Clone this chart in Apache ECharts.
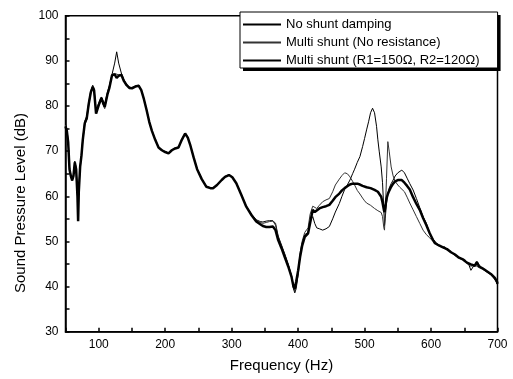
<!DOCTYPE html>
<html>
<head>
<meta charset="utf-8">
<script src="https://cdn.jsdelivr.net/npm/echarts@6/dist/echarts.min.js"></script>
<style>
  html, body { margin: 0; padding: 0; background: #fff; }
  #chart { width: 513px; height: 379px; }
</style>
</head>
<body>
<div id="chart"></div>
<script>
// frequency grid (Hz), shared by the three curves
var freqLow = [50, 52, 54, 56, 58, 60, 62, 64, 66, 68, 69, 70, 72, 74, 76, 79, 82, 85, 88, 91, 93, 96, 100, 104, 107, 109, 113, 116, 120];
var freqMid = [124, 127, 130, 134, 138, 142, 146, 150, 155, 160, 164, 168, 172, 176, 180, 185, 190, 195, 200, 205, 210, 215, 220, 225, 230, 234, 238, 243, 248, 255, 262, 268, 272, 278, 285, 290, 296, 301, 307, 314, 322, 330, 337, 343, 347, 352, 357, 362];
var freqHigh = [366, 370, 375, 380, 385, 390, 393, 395, 397, 400, 403, 406, 410, 415, 418, 422, 425, 428, 432, 437, 442, 447, 452, 456, 462, 466, 470, 474, 478, 482, 485, 489, 493, 497, 500, 503, 506, 509, 512, 515, 518, 520, 522, 525, 527, 529, 530, 531, 533, 535, 537, 540, 543, 546, 550, 553, 556, 560, 564, 568, 573, 578, 583, 588, 593, 598];
var freqTail = [603, 606, 609, 612, 615, 618, 621, 624, 627, 630, 633, 636, 639, 642, 645, 648, 651, 654, 657, 660, 663, 666, 669, 672, 675, 678, 681, 684, 687, 690, 693, 696, 699, 700];

// No shunt damping (dB)
var noShunt = [].concat(
    [76, 74.8, 72.5, 66.5, 64.8, 63.7, 64.8, 67.8, 66.4, 60.5, 55, 61.5, 66.8, 69.3, 72.8, 76.6, 77.8, 80.8, 83.3, 84.6, 83.8, 79, 80.7, 82, 81, 80.4, 83, 84.5, 87],
    [89.5, 92, 89.5, 87.3, 85.8, 84.8, 84.2, 84.1, 84.4, 84.6, 83.6, 81.6, 79.2, 76.6, 74.6, 72.6, 70.9, 70.3, 69.9, 69.6, 70.3, 70.7, 70.9, 72.6, 74, 73.1, 71.3, 68.6, 66.1, 63.9, 62.2, 61.9, 61.9, 62.6, 63.7, 64.4, 64.8, 64.3, 63, 60.6, 57.8, 56, 54.8, 54.4, 54.3, 54.5, 54.6, 54.6],
    [54, 51.2, 49.2, 47.2, 45, 42.4, 39.5, 38.6, 39.5, 42.5, 47, 49.5, 51.5, 52, 54.5, 55.5, 54, 53, 52.8, 52.5, 52.8, 53.3, 55, 56.5, 58.4, 60, 61.5, 62.5, 63.6, 65, 66, 67.5, 68.8, 71, 72.8, 74.7, 76.5, 78.5, 79.5, 78.5, 75.5, 72.5, 70, 66.5, 63, 57, 53.5, 55, 58.5, 60.5, 61.8, 62.8, 63.6, 64.5, 65.2, 65.6, 65.8, 65.2, 64, 62.8, 61.4, 59.5, 57.5, 55.5, 54, 51.8],
    [50.5, 50.0, 49.5, 49.6, 48.9, 49.2, 48.4, 48.8, 48.0, 48.2, 47.3, 47.6, 46.8, 46.9, 46.2, 46.5, 45.7, 45.9, 44.8, 43.6, 43.3, 45.0, 45.6, 44.9, 44.3, 44.6, 43.7, 43.9, 43.1, 43.3, 42.3, 42.0, 40.8, 41.3]
);

// Multi shunt, no resistance (dB)
var multiNoRes = [].concat(
    [75.8, 74.2, 71.8, 66.2, 64.3, 63.4, 64.6, 67.3, 65.8, 59.8, 54.8, 60.8, 66.2, 68.8, 72.3, 75.8, 77, 80.2, 82.8, 84, 83.2, 78.6, 80, 81.5, 80.2, 79.4, 82.4, 84.2, 87],
    [87.2, 86.8, 86.9, 87, 85.6, 84.7, 84.1, 84, 84.3, 84.5, 83.5, 81.5, 79.1, 76.5, 74.5, 72.5, 70.8, 70.2, 69.8, 69.5, 70.2, 70.6, 70.8, 72.5, 73.9, 73, 71.2, 68.5, 66, 63.8, 62.1, 61.8, 61.8, 62.5, 63.6, 64.3, 64.7, 64.2, 62.9, 60.5, 57.7, 55.9, 54.6, 54.2, 54, 54.2, 54.4, 54.5],
    [53.6, 51, 49, 47, 44.8, 42.5, 40.2, 39, 40.4, 43, 47.5, 50, 52, 53, 56, 57.8, 57.5, 57.3, 58, 58.8, 59.2, 59.5, 61, 62.5, 63.8, 64.6, 65.2, 65, 64.3, 63.3, 62.5, 61.3, 60.5, 59.6, 59, 58.5, 58.2, 58, 57.6, 57.3, 57, 56.8, 56.6, 56.4, 55.5, 53, 52.5, 56, 64, 72.1, 70, 66.5, 64.5, 63.3, 62.5, 62, 61.7, 61, 59.8, 58.5, 57, 55.5, 54, 52.5, 51.5, 50.8],
    [50.0, 49.8, 49.2, 49.5, 48.8, 48.5, 48.8, 48.0, 48.3, 47.8, 47.2, 47.5, 46.6, 46.8, 46.1, 45.7, 46.0, 45.1, 45.4, 44.5, 44.1, 44.8, 44.9, 44.2, 44.6, 43.8, 44.0, 43.2, 43.5, 42.6, 42.7, 41.6, 40.9, 41.0]
);

// Multi shunt, R1=150 ohm, R2=120 ohm (dB)
var multiRes = [].concat(
    [75.5, 74.5, 72, 66, 64.5, 63.5, 64.5, 67.5, 66, 60, 54.5, 61, 66.5, 69, 72.5, 76.2, 77.3, 80.5, 83, 84.2, 83.5, 78.3, 80.2, 81.8, 80.5, 79.8, 82.5, 84, 86.8],
    [87, 86.2, 86.7, 86.9, 85.5, 84.6, 84, 83.9, 84.3, 84.5, 83.5, 81.5, 79.1, 76.5, 74.5, 72.5, 70.8, 70.2, 69.8, 69.5, 70.2, 70.6, 70.8, 72.5, 73.9, 73, 71.2, 68.5, 66, 63.8, 62.1, 61.8, 61.8, 62.5, 63.6, 64.3, 64.7, 64.2, 62.9, 60.5, 57.7, 55.8, 54.4, 53.8, 53.4, 53.2, 53.2, 53.3],
    [52.5, 50.3, 48.5, 46.5, 44.5, 42.2, 40, 39.5, 41, 43.5, 46.6, 49, 51, 51.8, 54, 57, 56.5, 56.2, 57.3, 57.6, 57.8, 58.1, 59, 59.8, 60.6, 61.3, 61.8, 62.2, 62.6, 62.8, 62.9, 62.8, 62.6, 62.3, 62.1, 62, 61.9, 61.8, 61.6, 61.4, 61.1, 61, 60.6, 59.9, 58.6, 57, 56.5, 57.5, 59.5, 60.5, 61.2, 62.1, 62.8, 63.3, 63.6, 63.7, 63.6, 63, 62.3, 61.5, 59.8, 58.3, 57, 55.2, 53.6, 51.8],
    [50.3, 49.6, 49.9, 49.1, 49.4, 48.7, 49.0, 48.3, 48.6, 47.6, 47.9, 47.1, 47.3, 46.4, 46.8, 46.0, 46.2, 45.3, 45.7, 44.9, 45.3, 44.6, 45.4, 44.5, 44.8, 44.0, 44.3, 43.4, 43.7, 42.8, 43.0, 41.9, 41.2, 40.6]
);

var freq = [].concat(freqLow, freqMid, freqHigh, freqTail);
var names = ['No shunt damping', 'Multi shunt (No resistance)', 'Multi shunt (R1=150\u03A9, R2=120\u03A9)'];

function pairs(vals) {
    var out = [];
    for (var i = 0; i < freq.length; i++) {
        out.push([freq[i], vals[i]]);
    }
    return out;
}

var font = 'Liberation Sans, Arial, sans-serif';
var legendBase = {
    orient: 'vertical',
    align: 'left',
    itemWidth: 38,
    itemHeight: 13,
    itemGap: 5,
    padding: [6, 18, 1, 2],
    itemStyle: { opacity: 0 },
    data: names
};

var myChart = echarts.init(document.getElementById('chart'));

myChart.setOption({
    backgroundColor: '#fff',
    animation: false,
    grid: {
        left: 65.5,
        right: 15.5,
        top: 15.7,
        bottom: 47.3,
        show: true,
        borderColor: '#000',
        borderWidth: 1.5
    },
    legend: [
        // black copy offset down-right: the frame's drop shadow
        echarts.util.merge({
            left: 243,
            top: 15,
            z: 18,
            backgroundColor: '#000',
            borderWidth: 0,
            lineStyle: { opacity: 0 },
            textStyle: { fontFamily: font, fontSize: 13, color: 'rgba(0,0,0,0)' }
        }, legendBase),
        echarts.util.merge({
            left: 240,
            top: 12,
            z: 20,
            backgroundColor: '#fff',
            borderColor: '#000',
            borderWidth: 1,
            textStyle: { fontFamily: font, fontSize: 13, color: '#000' }
        }, legendBase)
    ],
    xAxis: {
        type: 'value',
        min: 50,
        max: 700,
        interval: 50,
        name: 'Frequency (Hz)',
        nameLocation: 'middle',
        nameGap: 27,
        nameTextStyle: { fontFamily: font, fontSize: 15, color: '#000' },
        axisLine: { lineStyle: { color: '#000', width: 1.5 } },
        axisTick: { inside: true, length: 4, lineStyle: { color: '#000', width: 1.5 } },
        axisLabel: {
            margin: 7,
            fontFamily: font,
            fontSize: 12,
            color: '#000',
            formatter: function (v) { return v % 100 === 0 ? v : ''; }
        },
        splitLine: { show: false }
    },
    yAxis: {
        type: 'value',
        min: 30,
        max: 100,
        interval: 5,
        axisLine: { lineStyle: { color: '#000', width: 1.5 } },
        axisTick: { inside: true, length: 4, lineStyle: { color: '#000', width: 1.5 } },
        axisLabel: {
            margin: 7,
            fontFamily: font,
            fontSize: 12,
            color: '#000',
            formatter: function (v) { return v % 10 === 0 ? v : ''; }
        },
        splitLine: { show: false }
    },
    graphic: [{
        type: 'text',
        x: 21,
        y: 203,
        rotation: Math.PI / 2,
        style: {
            text: 'Sound Pressure Level (dB)',
            font: '15px ' + font,
            fill: '#000',
            align: 'center',
            verticalAlign: 'middle'
        }
    }],
    series: [
        {
            name: names[0],
            type: 'line',
            symbol: 'none',
            data: pairs(noShunt),
            lineStyle: { color: '#000', width: 1 },
            itemStyle: { color: '#000' },
            z: 2
        },
        {
            name: names[1],
            type: 'line',
            symbol: 'none',
            data: pairs(multiNoRes),
            lineStyle: { color: '#333', width: 1 },
            itemStyle: { color: '#333' },
            z: 3
        },
        {
            name: names[2],
            type: 'line',
            symbol: 'none',
            data: pairs(multiRes),
            lineStyle: { color: '#000', width: 2.5 },
            itemStyle: { color: '#000' },
            z: 4
        }
    ]
});
</script>
</body>
</html>
